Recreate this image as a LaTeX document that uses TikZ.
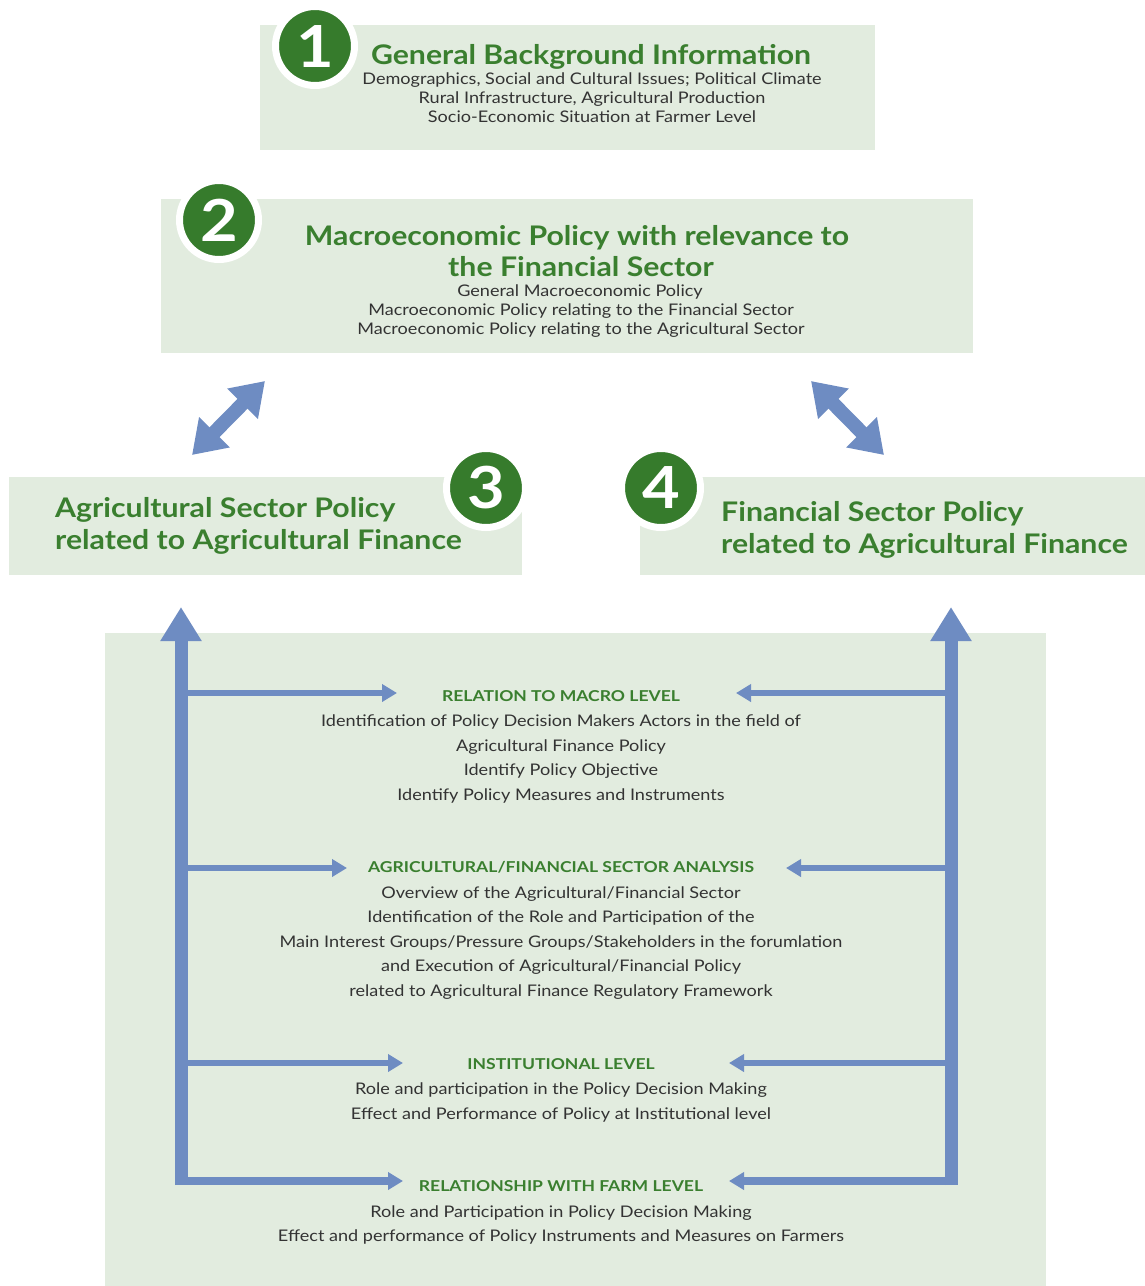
\documentclass[tikz,border=0pt]{standalone}
\usepackage{fontspec}
\setmainfont{Lato}
\newfontfamily\widebody{Lato}[FakeStretch=1.13]
\newfontfamily\widetitle{Lato}[FakeStretch=1.12]
\newfontfamily\widecaps{Lato}[FakeStretch=1.17]
\usetikzlibrary{arrows.meta}
\definecolor{panelfill}{HTML}{E2ECDF}
\definecolor{darkgreen}{HTML}{367B2C}
\definecolor{titlegreen}{HTML}{3A7F2F}
\definecolor{arrowblue}{HTML}{6E8CC2}
\definecolor{bodygray}{HTML}{333333}
\tikzset{
  panel/.style={fill=panelfill, draw=none, inner sep=0pt, outer sep=0pt, anchor=north west},
  numcirc/.style={circle, fill=darkgreen, draw=white, line width=7pt, minimum size=79pt, inner sep=0pt,
    text=white, font=\widetitle\fontsize{58}{58}\selectfont},
  bigtitle/.style={text=titlegreen, font=\widetitle\bfseries\fontsize{27}{30}\selectfont, inner sep=0pt, anchor=base},
  bodyline/.style={text=bodygray, font=\widebody\fontsize{16}{19}\selectfont, inner sep=0pt, anchor=base},
  capshead/.style={text=titlegreen, font=\widecaps\bfseries\fontsize{15}{18}\selectfont, inner sep=0pt, anchor=base},
  bigarrow/.style={draw=arrowblue, line width=13pt, -{Triangle[length=34pt,width=39pt]}},
  dblarrow/.style={draw=arrowblue, line width=14pt, {Triangle[length=32pt,width=41pt]}-{Triangle[length=32pt,width=41pt]}},
  smallarrow/.style={draw=arrowblue, line width=6pt, -{Triangle[length=15pt,width=17pt]}},
  cornerarrow/.style={draw=arrowblue, line width=8pt, -{Triangle[length=15pt,width=17pt]}}
}
\begin{document}
\begin{tikzpicture}[x=1pt,y=-1pt]
\useasboundingbox (0,0) rectangle (1145,1286);

% panels
\node[panel, minimum width=615pt, minimum height=125pt] (p1) at (260,25) {};
\node[panel, minimum width=812pt, minimum height=154pt] (p2) at (161,199) {};
\node[panel, minimum width=513pt, minimum height=98pt] (p3) at (9,477) {};
\node[panel, minimum width=505pt, minimum height=98pt] (p4) at (640,477) {};
\node[panel, minimum width=941pt, minimum height=653pt] (p5) at (105,633) {};

% number circles
\node[numcirc] (n1) at (315,46) {\textbf{1}};
\node[numcirc] (n2) at (219,220) {\textbf{2}};
\node[numcirc] (n3) at (486,488) {\textbf{3}};
\node[numcirc] (n4) at (661,488) {\textbf{4}};

% box 1
\node[bigtitle] (t1) at (591,64) {General Background Information};
\node[bodyline] (b1a) at (592,84) {Demographics, Social and Cultural Issues; Political Climate};
\node[bodyline] (b1b) at (592,103) {Rural Infrastructure, Agricultural Production};
\node[bodyline] (b1c) at (592,122) {Socio-Economic Situation at Farmer Level};

% box 2
\node[bigtitle] (t2a) at (577,245) {Macroeconomic Policy with relevance to};
\node[bigtitle] (t2b) at (581,276) {the Financial Sector};
\node[bodyline] (b2a) at (580,296) {General Macroeconomic Policy};
\node[bodyline] (b2b) at (581,315) {Macroeconomic Policy relating to the Financial Sector};
\node[bodyline] (b2c) at (581,334) {Macroeconomic Policy relating to the Agricultural Sector};

% box 3
\node[bigtitle, anchor=base west] (t3a) at (55,517) {Agricultural Sector Policy};
\node[bigtitle, anchor=base west] (t3b) at (55,549) {related to Agricultural Finance};

% box 4
\node[bigtitle, anchor=base west] (t4a) at (721,521) {Financial Sector Policy};
\node[bigtitle, anchor=base west] (t4b) at (721,553) {related to Agricultural Finance};

% double arrows
\coordinate (d1a) at (192,455);
\coordinate (d1b) at (265,381);
\coordinate (d2a) at (811,381);
\coordinate (d2b) at (884,455);
\draw[dblarrow] (d1a) -- (d1b);
\draw[dblarrow] (d2a) -- (d2b);

% section 1
\node[capshead] (h1) at (561,701) {RELATION TO MACRO LEVEL};
\node[bodyline] (s1a) at (561,726) {Identification of Policy Decision Makers Actors in the field of};
\node[bodyline] (s1b) at (561,751) {Agricultural Finance Policy};
\node[bodyline] (s1c) at (561,775) {Identify Policy Objective};
\node[bodyline] (s1d) at (561,800) {Identify Policy Measures and Instruments};

% section 2
\node[capshead] (h2) at (561,872) {AGRICULTURAL/FINANCIAL SECTOR ANALYSIS};
\node[bodyline] (s2a) at (561,898) {Overview of the Agricultural/Financial Sector};
\node[bodyline] (s2b) at (561,922) {Identification of the Role and Participation of the};
\node[bodyline] (s2c) at (561,947) {Main Interest Groups/Pressure Groups/Stakeholders in the forumlation};
\node[bodyline] (s2d) at (561,971) {and Execution of Agricultural/Financial Policy};
\node[bodyline] (s2e) at (561,996) {related to Agricultural Finance Regulatory Framework};

% section 3
\node[capshead] (h3) at (561,1069) {INSTITUTIONAL LEVEL};
\node[bodyline] (s3a) at (561,1094) {Role and participation in the Policy Decision Making};
\node[bodyline] (s3b) at (561,1119) {Effect and Performance of Policy at Institutional level};

% section 4
\node[capshead] (h4) at (561,1191) {RELATIONSHIP WITH FARM LEVEL};
\node[bodyline] (s4a) at (561,1217) {Role and Participation in Policy Decision Making};
\node[bodyline] (s4b) at (561,1241) {Effect and performance of Policy Instruments and Measures on Farmers};

% vertical big arrows
\coordinate (lb) at (181,1185);
\coordinate (lt) at (181,607);
\coordinate (rb) at (951,1185);
\coordinate (rt) at (951,607);
\draw[bigarrow] (lb) -- (lt);
\draw[bigarrow] (rb) -- (rt);

% horizontal arrows, left
\coordinate (l1) at (187,693);   \coordinate (l1e) at (397,693);
\coordinate (l2) at (187,868);   \coordinate (l2e) at (347,868);
\coordinate (l3) at (187,1063);  \coordinate (l3e) at (403,1063);
\coordinate (l4) at (175,1181);  \coordinate (l4e) at (403,1181);
\draw[smallarrow] (l1) -- (l1e);
\draw[smallarrow] (l2) -- (l2e);
\draw[smallarrow] (l3) -- (l3e);
\draw[cornerarrow] (l4) -- (l4e);

% horizontal arrows, right
\coordinate (r1) at (945,693);   \coordinate (r1e) at (736,693);
\coordinate (r2) at (945,868);   \coordinate (r2e) at (786,868);
\coordinate (r3) at (945,1063);  \coordinate (r3e) at (729,1063);
\coordinate (r4) at (957,1181);  \coordinate (r4e) at (729,1181);
\draw[smallarrow] (r1) -- (r1e);
\draw[smallarrow] (r2) -- (r2e);
\draw[smallarrow] (r3) -- (r3e);
\draw[cornerarrow] (r4) -- (r4e);
\end{tikzpicture}
\end{document}
